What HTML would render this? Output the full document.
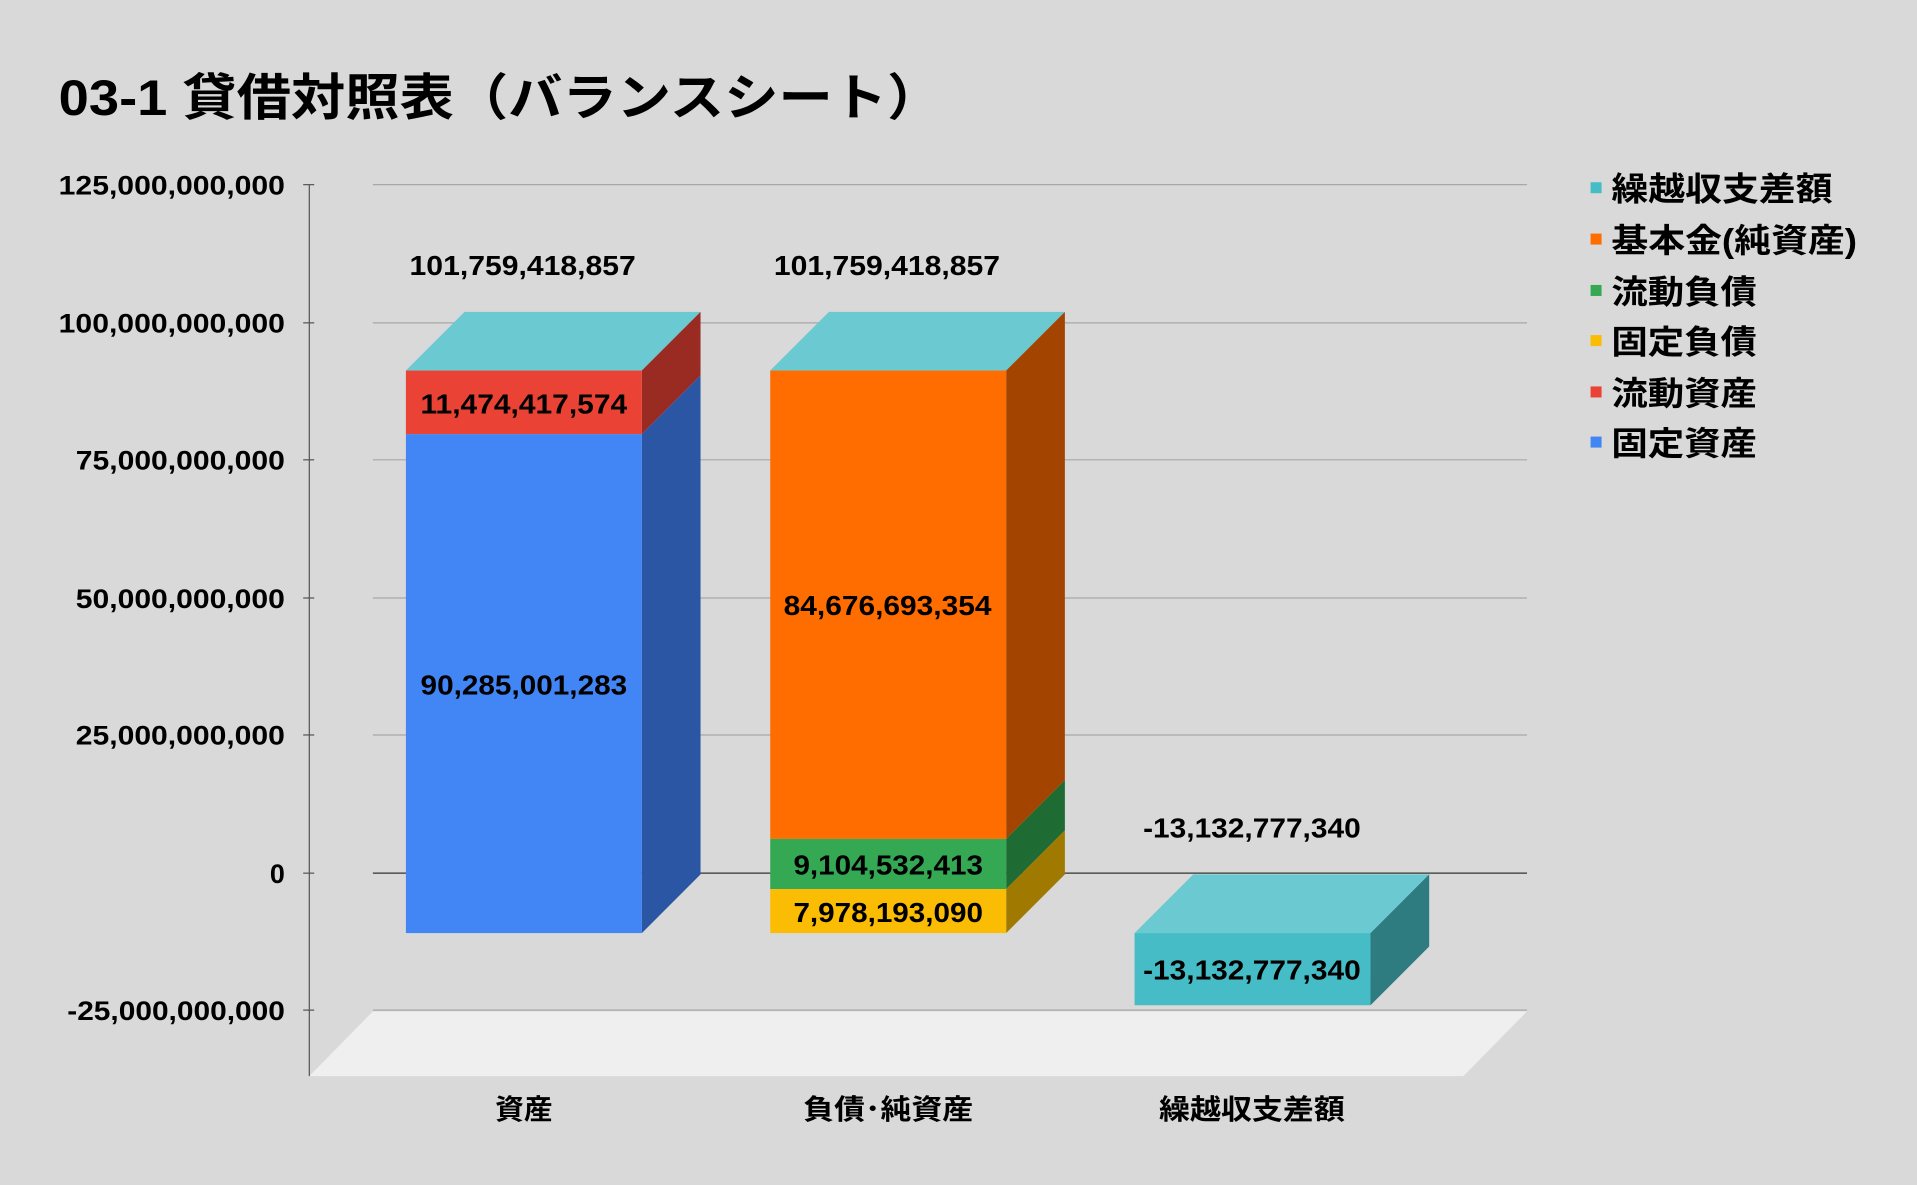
<!DOCTYPE html>
<html><head><meta charset="utf-8"><style>
html,body{margin:0;padding:0;background:#d9d9d9;}
svg{display:block;}
text{font-family:"Liberation Sans","Noto Sans CJK JP",sans-serif;font-weight:bold;fill:#000;}
</style></head><body>
<svg width="1917" height="1185" viewBox="0 0 1568 969" preserveAspectRatio="none" xmlns="http://www.w3.org/2000/svg">
<rect width="1568" height="969" fill="#d9d9d9"/>
<text x="48" y="94" font-size="41" textLength="722" lengthAdjust="spacingAndGlyphs">03-1 貸借対照表（バランスシート）</text>
<g stroke="#a8a8a8" stroke-width="1">
<line x1="305" y1="151" x2="1249" y2="151"/>
<line x1="305" y1="264" x2="1249" y2="264"/>
<line x1="305" y1="376" x2="1249" y2="376"/>
<line x1="305" y1="489" x2="1249" y2="489"/>
<line x1="305" y1="601" x2="1249" y2="601"/>
<line x1="305" y1="826" x2="1249" y2="826"/>
</g>
<line x1="305" y1="714" x2="1249" y2="714" stroke="#333" stroke-width="1"/>
<polygon points="305,827 1249,827 1197,880 253,880" fill="#efefef"/>
<line x1="253" y1="151" x2="253" y2="880" stroke="#555" stroke-width="1"/>
<g stroke="#555"><line x1="248" y1="151" x2="257" y2="151"/><line x1="248" y1="264" x2="257" y2="264"/><line x1="248" y1="376" x2="257" y2="376"/><line x1="248" y1="489" x2="257" y2="489"/><line x1="248" y1="601" x2="257" y2="601"/><line x1="248" y1="714" x2="257" y2="714"/><line x1="248" y1="826" x2="257" y2="826"/></g>
<g font-size="22" lengthAdjust="spacingAndGlyphs">
<text x="48" y="159" textLength="185" lengthAdjust="spacingAndGlyphs">125,000,000,000</text>
<text x="48" y="272" textLength="185" lengthAdjust="spacingAndGlyphs">100,000,000,000</text>
<text x="62" y="384" textLength="171" lengthAdjust="spacingAndGlyphs">75,000,000,000</text>
<text x="62" y="497" textLength="171" lengthAdjust="spacingAndGlyphs">50,000,000,000</text>
<text x="62" y="609" textLength="171" lengthAdjust="spacingAndGlyphs">25,000,000,000</text>
<text x="233" y="722" text-anchor="end">0</text>
<text x="55" y="834" textLength="178" lengthAdjust="spacingAndGlyphs">-25,000,000,000</text>
</g>
<polygon points="332,303 380,255 573,255 525,303" fill="#6bc9d1"/>
<polygon points="525,303 573,255 573,307 525,355" fill="#992b22"/>
<polygon points="525,355 573,307 573,715 525,763" fill="#2a56a3"/>
<rect x="332" y="303" width="193" height="52" fill="#ea4335"/>
<rect x="332" y="355" width="193" height="408" fill="#4285f4"/>
<polygon points="630,303 678,255 871,255 823,303" fill="#6bc9d1"/>
<polygon points="823,303 871,255 871,638 823,686" fill="#a34400"/>
<polygon points="823,686 871,638 871,679 823,727" fill="#1e6b33"/>
<polygon points="823,727 871,679 871,715 823,763" fill="#a07a00"/>
<rect x="630" y="303" width="193" height="383" fill="#ff6d00"/>
<rect x="630" y="686" width="193" height="41" fill="#34a853"/>
<rect x="630" y="727" width="193" height="36" fill="#fbbc04"/>
<polygon points="928,763 976,715 1169,715 1121,763" fill="#6bc9d1"/>
<polygon points="1121,763 1169,715 1169,774 1121,822" fill="#2e7b80"/>
<rect x="928" y="763" width="193" height="59" fill="#46bdc6"/>
<g font-size="23">
<text x="335" y="225" textLength="185" lengthAdjust="spacingAndGlyphs">101,759,418,857</text>
<text x="633" y="225" textLength="185" lengthAdjust="spacingAndGlyphs">101,759,418,857</text>
<text x="935" y="685" textLength="178" lengthAdjust="spacingAndGlyphs">-13,132,777,340</text>
<text x="344" y="338" textLength="169" lengthAdjust="spacingAndGlyphs">11,474,417,574</text>
<text x="344" y="568" textLength="169" lengthAdjust="spacingAndGlyphs">90,285,001,283</text>
<text x="641" y="503" textLength="170" lengthAdjust="spacingAndGlyphs">84,676,693,354</text>
<text x="649" y="715" textLength="155" lengthAdjust="spacingAndGlyphs">9,104,532,413</text>
<text x="649" y="754" textLength="155" lengthAdjust="spacingAndGlyphs">7,978,193,090</text>
<text x="935" y="801" textLength="178" lengthAdjust="spacingAndGlyphs">-13,132,777,340</text>
<text x="405" y="915" textLength="47" lengthAdjust="spacingAndGlyphs">資産</text>
<text x="657" y="915" textLength="139" lengthAdjust="spacingAndGlyphs">負債･純資産</text>
<text x="948" y="915" textLength="152" lengthAdjust="spacingAndGlyphs">繰越収支差額</text>
</g>
<g font-size="27">
<rect x="1301" y="149" width="9" height="9" fill="#46bdc6"/><text x="1318" y="164" textLength="181" lengthAdjust="spacingAndGlyphs">繰越収支差額</text>
<rect x="1301" y="191" width="9" height="9" fill="#ff6d00"/><text x="1318" y="206" textLength="201" lengthAdjust="spacingAndGlyphs">基本金(純資産)</text>
<rect x="1301" y="233" width="9" height="9" fill="#34a853"/><text x="1318" y="248" textLength="119" lengthAdjust="spacingAndGlyphs">流動負債</text>
<rect x="1301" y="274" width="9" height="9" fill="#fbbc04"/><text x="1318" y="289" textLength="119" lengthAdjust="spacingAndGlyphs">固定負債</text>
<rect x="1301" y="316" width="9" height="9" fill="#ea4335"/><text x="1318" y="331" textLength="119" lengthAdjust="spacingAndGlyphs">流動資産</text>
<rect x="1301" y="357" width="9" height="9" fill="#4285f4"/><text x="1318" y="372" textLength="119" lengthAdjust="spacingAndGlyphs">固定資産</text>
</g>
</svg>
</body></html>
